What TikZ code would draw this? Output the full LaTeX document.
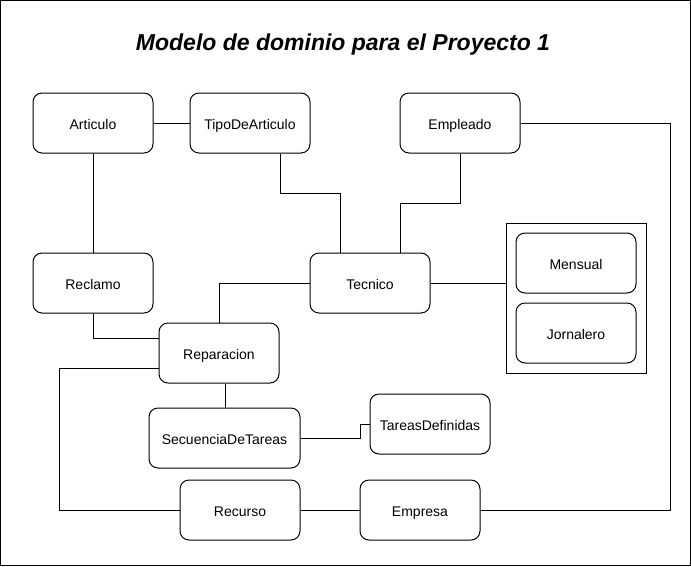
\documentclass[tikz,border=0pt]{standalone}
\usepackage{fontspec}
\setmainfont{Liberation Sans}
\begin{document}
\begin{tikzpicture}[x=1pt,y=-1pt,line width=1pt,
  box/.style={draw,rounded corners=9pt,minimum width=120pt,minimum height=60pt,inner sep=0pt,text height=14pt,text depth=1pt,font=\fontsize{14}{16}\selectfont},
  conn/.style={draw}]
\useasboundingbox (0,0) rectangle (691,566);
\draw (0.5,0.5) rectangle (690.5,565.5);
\node[font=\fontsize{23}{27}\selectfont\bfseries\itshape] (title) at (343,45) {Modelo de dominio para el Proyecto 1};
\node[box] (art) at (93,123) {Articulo};
\node[box] (tipo) at (250,123) {TipoDeArticulo};
\node[box] (emp) at (460,123) {Empleado};
\node[box] (rec) at (93,283) {Reclamo};
\node[box] (tec) at (370,283) {Tecnico};
\node[draw,minimum width=140pt,minimum height=150pt,inner sep=0pt] (cont) at (576,298) {};
\node[box] (men) at (576,263) {Mensual};
\node[box] (jor) at (576,333) {Jornalero};
\node[box] (rep) at (219,353) {Reparacion};
\node[box,minimum width=151pt] (sec) at (224.5,438) {SecuenciaDeTareas};
\node[box] (tar) at (430,424) {TareasDefinidas};
\node[box] (recu) at (240,510) {Recurso};
\node[box] (empr) at (420,510) {Empresa};
\draw (art) -- (tipo);
\draw (art) -- (rec);
\draw (tipo.south -| 280,0) |- (340,193) -- (tec.north -| 340,0);
\draw (emp.south) |- (400,203) -- (tec.north -| 400,0);
\draw (tec.east) -- (cont.west |- tec.east);
\draw (tec.west) -| (rep.north);
\draw (rec.south) |- (rep.west |- 0,338);
\draw (rep.west |- 0,368) -| (59,510) -- (recu.west);
\draw (rep.south -| 225,0) -- (sec.north -| 225,0);
\draw (sec.east) -| (360,424) -- (tar.west);
\draw (recu) -- (empr);
\draw (empr.east) -| (670,123) -- (emp.east);
\end{tikzpicture}
\end{document}
